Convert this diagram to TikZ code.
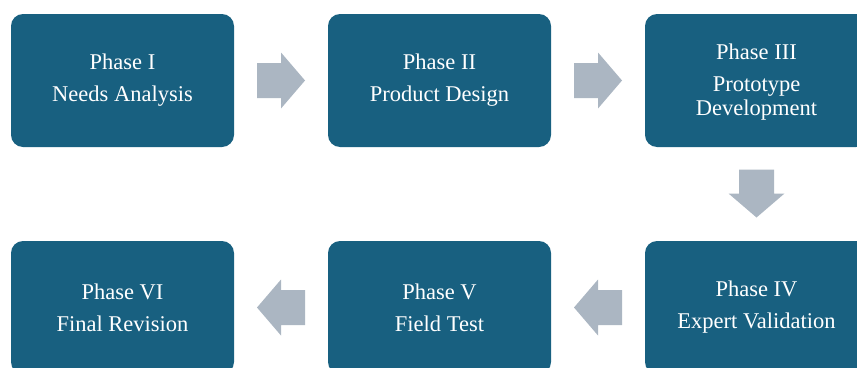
\documentclass[tikz,border=0pt]{standalone}
\usepackage{fontspec}
\setmainfont{Liberation Serif}
\usetikzlibrary{calc}
\definecolor{boxc}{RGB}{24,96,128}
\definecolor{arrc}{RGB}{171,182,194}
\tikzset{
  phasebox/.style={fill=boxc, draw=none, rounded corners=12pt, minimum width=223pt, minimum height=133pt, inner sep=0pt},
  phasetext/.style={text=white, align=center, font=\fontsize{22.5}{24}\selectfont},
  blockarrow/.pic={\fill[arrc] (-24pt,-17.5pt) -- (0pt,-17.5pt) -- (0pt,-28pt) -- (24pt,0pt) -- (0pt,28pt) -- (0pt,17.5pt) -- (-24pt,17.5pt) -- cycle;}
}
\begin{document}
\begin{tikzpicture}[x=1pt,y=1pt]
\useasboundingbox (0,0) rectangle (857,-367);
\begin{scope}
\clip (0,0) rectangle (857,-367);
\node[phasebox] (b1) at (122.5,-80.5) {};
\node[phasebox] (b2) at (439.5,-80.5) {};
\node[phasebox] (b3) at (756.5,-80.5) {};
\node[phasebox] (b4) at (756.5,-307.5) {};
\node[phasebox] (b5) at (439.5,-307.5) {};
\node[phasebox] (b6) at (122.5,-307.5) {};
\end{scope}
\node[phasetext] (t1) at (b1) {Phase I\\[8pt]Needs Analysis};
\node[phasetext] (t2) at (b2) {Phase II\\[8pt]Product Design};
\node[phasetext] (t3) at ([yshift=-2pt]b3) {Phase III\\[8pt]Prototype\\Development};
\node[phasetext] (t4) at (b4) {Phase IV\\[8pt]Expert Validation};
\node[phasetext] (t5) at (b5) {Phase V\\[8pt]Field Test};
\node[phasetext] (t6) at (b6) {Phase VI\\[8pt]Final Revision};
\pic at ($(b1.east)!0.5!(b2.west)$) {blockarrow};
\pic at ($(b2.east)!0.5!(b3.west)$) {blockarrow};
\pic[rotate=-90] at ($(b3.south)!0.5!(b4.north)+(0,0.5)$) {blockarrow};
\pic[rotate=180] at ($(b4.west)!0.5!(b5.east)$) {blockarrow};
\pic[rotate=180] at ($(b5.west)!0.5!(b6.east)$) {blockarrow};
\end{tikzpicture}
\end{document}
